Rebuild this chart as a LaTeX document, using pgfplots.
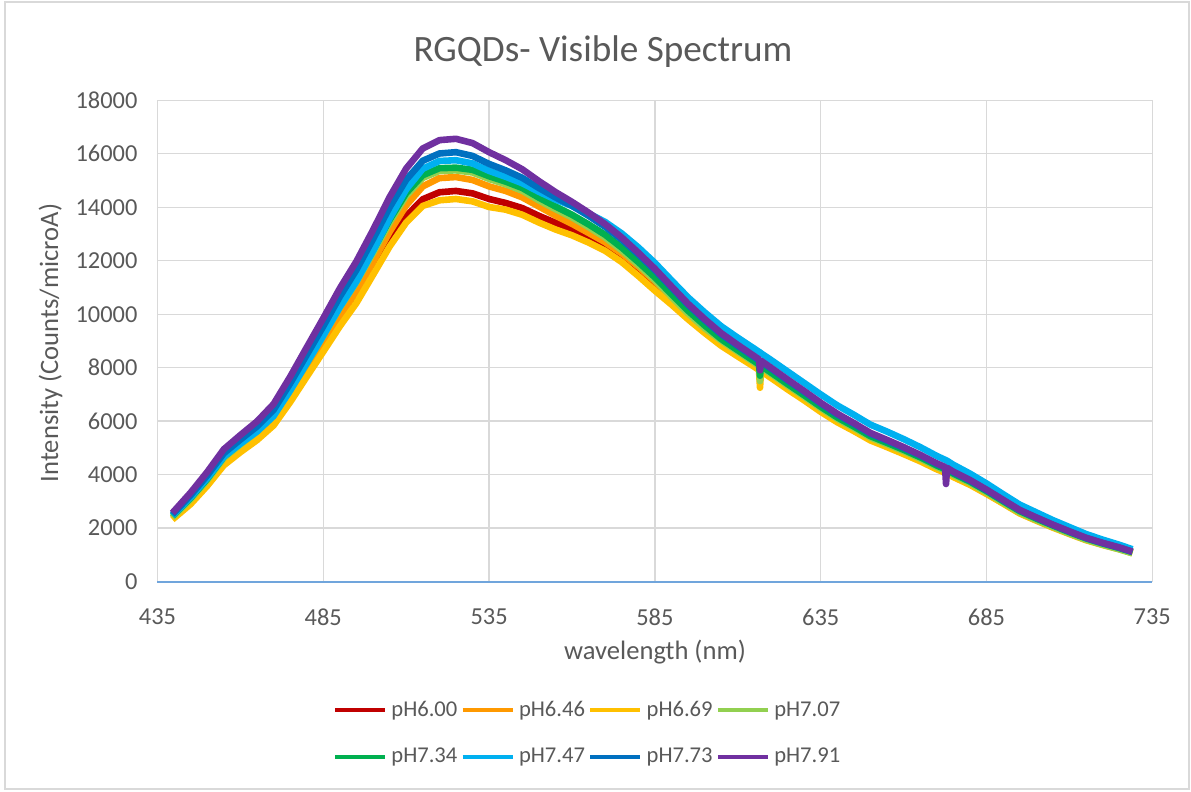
\documentclass[border=0pt]{standalone}
\usepackage{pgfplots}
\pgfplotsset{compat=1.18}
\usepackage{pgfplotstable}
\usepackage{fontspec}
\setmainfont{Carlito}
\definecolor{labelgray}{HTML}{595959}
\definecolor{gridgray}{HTML}{D9D9D9}
\definecolor{axisblue}{HTML}{70A5DC}
\definecolor{cRed}{HTML}{C00000}
\definecolor{cOrange}{HTML}{FF9900}
\definecolor{cGold}{HTML}{FFC000}
\definecolor{cLGreen}{HTML}{92D050}
\definecolor{cGreen}{HTML}{00B050}
\definecolor{cLBlue}{HTML}{00B0F0}
\definecolor{cBlue}{HTML}{0070C0}
\definecolor{cPurple}{HTML}{7030A0}

\pgfplotstableread{
nm r o y lg g c b p
439.5 2370 2370 2320 2400 2450 2470 2510 2570
445 2950 2980 2900 3080 3130 3160 3230 3330
450 3630 3680 3580 3790 3840 3870 3970 4100
455 4410 4470 4350 4620 4670 4670 4800 4950
460 4900 4960 4840 5130 5180 5160 5310 5480
465 5370 5430 5290 5610 5660 5610 5800 5990
470 5920 6000 5840 6210 6260 6190 6420 6640
475 6800 6900 6710 7180 7230 7140 7410 7660
480 7760 7880 7660 8160 8260 8160 8480 8760
485 8730 8890 8600 9190 9290 9200 9550 9850
490 9720 9920 9550 10250 10350 10270 10660 10970
495 10650 10860 10420 11200 11300 11230 11660 11980
500 11700 11950 11470 12290 12390 12370 12810 13150
505 12760 13080 12530 13430 13530 13580 14000 14380
510 13670 14070 13430 14430 14530 14670 15030 15450
515 14300 14780 14050 15100 15200 15440 15740 16200
520 14560 15090 14260 15360 15460 15730 16010 16510
525 14610 15130 14310 15380 15480 15760 16060 16560
530 14520 15020 14220 15300 15400 15640 15920 16400
535 14310 14780 14010 15060 15160 15360 15620 16060
540 14160 14610 13910 14860 14960 15140 15380 15760
545 13970 14370 13720 14620 14720 14900 15100 15420
550 13680 14030 13430 14260 14360 14580 14720 14980
555 13420 13690 13170 13930 14030 14290 14370 14570
560 13170 13380 12950 13620 13720 14050 14050 14200
565 12870 13040 12680 13260 13360 13770 13680 13800
570 12550 12690 12370 12870 12970 13450 13270 13370
575 12170 12270 11950 12390 12490 13020 12790 12870
580 11700 11780 11430 11850 11950 12500 12240 12300
585 11140 11230 10880 11280 11380 11920 11650 11700
590 10540 10620 10360 10650 10750 11270 11000 11040
595 9930 10010 9810 10030 10130 10630 10350 10390
600 9400 9470 9300 9480 9580 10070 9780 9820
605 8910 8960 8820 9020 9070 9550 9250 9290
610 8500 8540 8420 8600 8650 9120 8810 8850
615 8100 8140 8030 8190 8240 8710 8390 8430
616.4 7985 8025 7915 8072 8122 8592 8272 8310
616.7 7960 8000 7250 7500 7700 8570 8250 7900
617.0 7940 7980 7870 8020 8070 8540 8220 8260
620 7690 7730 7620 7770 7820 8290 7970 8000
625 7270 7310 7190 7340 7390 7860 7530 7560
630 6850 6890 6780 6920 6970 7430 7100 7130
635 6420 6460 6350 6490 6540 7000 6660 6690
640 6020 6060 5960 6090 6140 6590 6250 6280
645 5680 5720 5630 5750 5800 6240 5900 5930
650 5320 5360 5280 5390 5440 5870 5530 5560
655 5070 5110 5030 5140 5190 5610 5270 5300
660 4810 4850 4770 4880 4930 5330 5000 5030
665 4540 4570 4500 4600 4650 5030 4720 4740
670 4230 4260 4200 4290 4340 4700 4400 4420
672.5 4105 4130 4075 4160 4210 4555 4265 4285
672.8 4090 4115 4060 4145 4195 4540 4250 3650
673.1 4075 4100 4045 4130 4180 4520 4235 4255
675 3940 3960 3910 3990 4040 4370 4090 4110
680 3650 3670 3620 3690 3740 4040 3780 3800
685 3300 3320 3280 3340 3390 3670 3420 3440
690 2940 2950 2920 2960 3010 3270 3040 3060
695 2570 2580 2550 2590 2640 2880 2670 2680
700 2300 2310 2280 2310 2360 2590 2390 2400
705 2040 2050 2020 2050 2100 2300 2120 2130
710 1800 1810 1780 1800 1850 2040 1870 1880
715 1570 1580 1550 1570 1620 1780 1630 1640
720 1390 1400 1370 1380 1430 1570 1440 1450
725 1230 1240 1210 1210 1260 1380 1270 1280
729 1080 1090 1060 1060 1110 1210 1110 1120
}\spectra

\begin{document}
\begin{tikzpicture}
\path[use as bounding box] (0pt,0pt) rectangle (595.5pt,-396pt);
\draw[gridgray, line width=0.6pt] (2.5pt,-1pt) rectangle (594.5pt,-394.5pt);
\begin{axis}[
  at={(78.75pt,-290.8pt)}, anchor=south west,
  scale only axis, width=497.4pt, height=240.65pt,
  xmin=435, xmax=735, ymin=0, ymax=18000,
  xtick={435,485,535,585,635,685,735},
  ytick={0,2000,4000,6000,8000,10000,12000,14000,16000,18000},
  scaled y ticks=false, scaled x ticks=false,
  grid=major, grid style={draw=gridgray, line width=0.7pt},
  major tick length=0pt,
  axis lines*=left,
  x axis line style={draw=axisblue, line width=0.9pt},
  y axis line style={draw=none},
  tick label style={font=\fontsize{12.2}{14}\selectfont, text=labelgray},
  xticklabel style={yshift=-10pt},
  yticklabel style={xshift=-6.5pt},
  /pgf/number format/assume math mode=true,
  /pgf/number format/1000 sep={},
  legend columns=4,
  legend style={at={(0.4333,-0.3156)}, anchor=center, draw=none, fill=none,
    font=\fontsize{11.3}{13}\selectfont, text=labelgray,
    /tikz/every even column/.append style={column sep=-0.5pt},
    /tikz/row sep=10.5pt},
  legend image code/.code={\draw[#1, line width=2.3pt] (0pt,0pt) -- (25pt,0pt);},
  every axis plot/.append style={line width=3.3pt, line join=round},
]
\addplot[cRed] table[x=nm, y=r] {\spectra}; \addlegendentry{pH6.00}
\addplot[cOrange] table[x=nm, y=o] {\spectra}; \addlegendentry{pH6.46}
\addplot[cGold] table[x=nm, y=y] {\spectra}; \addlegendentry{pH6.69}
\addplot[cLGreen] table[x=nm, y=lg] {\spectra}; \addlegendentry{pH7.07}
\addplot[cGreen] table[x=nm, y=g] {\spectra}; \addlegendentry{pH7.34}
\addplot[cLBlue] table[x=nm, y=c] {\spectra}; \addlegendentry{pH7.47}
\addplot[cBlue] table[x=nm, y=b] {\spectra}; \addlegendentry{pH7.73}
\addplot[cPurple] table[x=nm, y=p] {\spectra}; \addlegendentry{pH7.91}
\end{axis}
\node[anchor=base, text=labelgray, font=\fontsize{18.6}{20}\selectfont] at (301.5pt,-30.75pt) {RGQDs- Visible Spectrum};
\node[anchor=base, text=labelgray, font=\fontsize{13.3}{15}\selectfont] at (327.5pt,-329.5pt) {wavelength (nm)};
\node[anchor=base, rotate=90, text=labelgray, font=\fontsize{13.3}{15}\selectfont] at (29pt,-171.5pt) {Intensity (Counts/microA)};
\end{tikzpicture}
\end{document}
